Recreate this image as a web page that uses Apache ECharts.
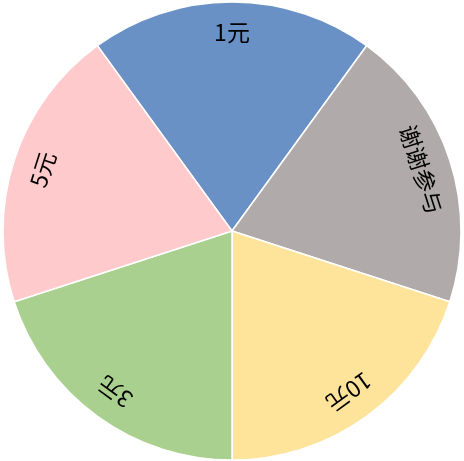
<!DOCTYPE html>
<html><head><meta charset="utf-8">
<script src="https://cdn.jsdelivr.net/npm/echarts@6/dist/echarts.min.js"></script>
<style>html,body{margin:0;padding:0;background:#fff}#c{width:464px;height:461px}</style>
</head><body><div id="c"></div>
<script>
const categories = ['1元', '谢谢参与', '10元', '3元', '5元'];
const values = [1, 1, 1, 1, 1];
const colors = ['#6991c5', '#b0abaa', '#fee39b', '#a9d08e', '#ffcacb'];

const total = values.reduce((a, b) => a + b, 0);
let acc = 0;
const rotations = values.map(v => {
  const mid = (acc + v / 2) / total * 360 - 36; // clockwise from top
  acc += v;
  let r = -mid;
  while (r > 180) r -= 360;
  while (r <= -180) r += 360;
  return r;
});

const chart = echarts.init(document.getElementById('c'));
chart.setOption({
  animation: false,
  series: [{
    type: 'pie',
    center: [232, 231],
    radius: [0, 229],
    startAngle: 126,
    clockwise: true,
    silent: true,
    label: { show: false },
    labelLine: { show: false },
    itemStyle: { borderColor: '#fff', borderWidth: 1.5 },
    data: categories.map((c, i) => ({ name: c, value: values[i], itemStyle: { color: colors[i] } }))
  }, {
    type: 'pie',
    center: [232, 231],
    radius: [163, 229],
    startAngle: 126,
    clockwise: true,
    silent: true,
    labelLine: { show: false },
    itemStyle: { color: 'rgba(0,0,0,0)' },
    label: {
      show: true, position: 'inside', color: '#000',
      fontFamily: '"Noto Sans CJK SC", sans-serif', fontSize: 23,
      formatter: '{b}'
    },
    data: categories.map((c, i) => ({ name: c, value: values[i], label: { rotate: rotations[i] } }))
  }]
});
</script></body></html>
